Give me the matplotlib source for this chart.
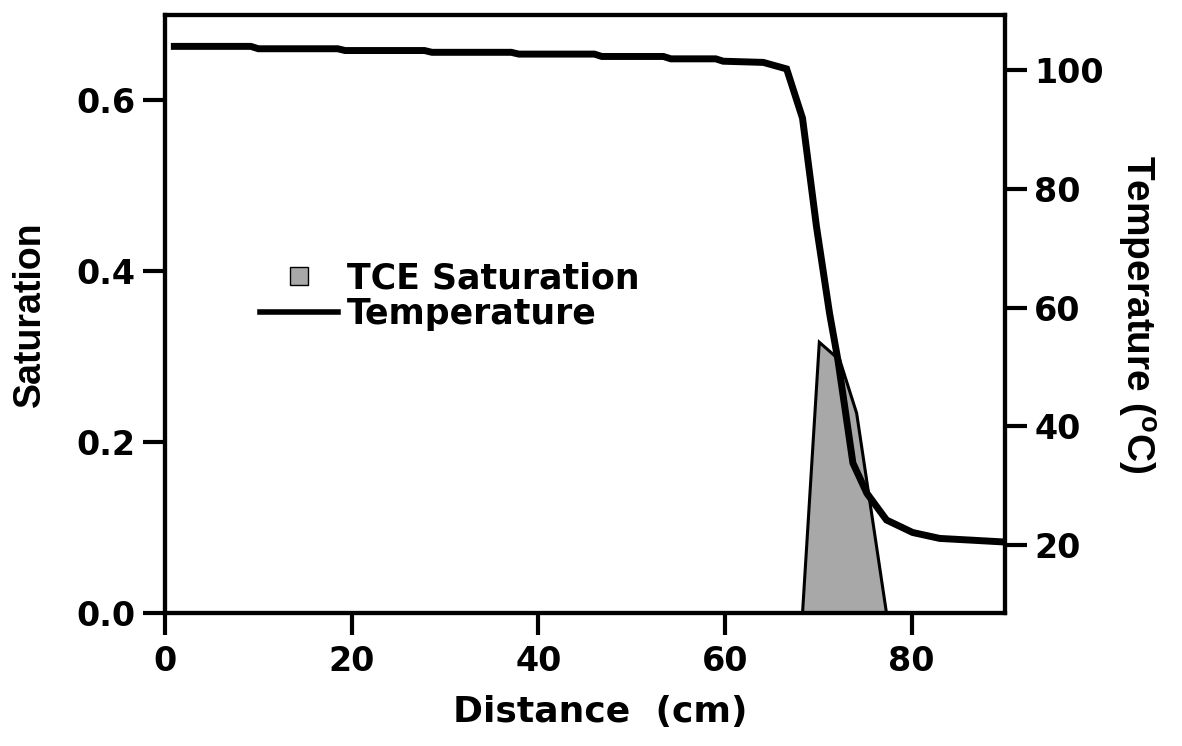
import matplotlib
matplotlib.use("Agg")
import matplotlib.pyplot as plt
from matplotlib.lines import Line2D

plt.rcParams['font.family'] = ['DejaVu Sans']
plt.rcParams['font.weight'] = 'bold'
plt.rcParams['mathtext.default'] = 'bf'

# temperature profile (deg C) along the column
dist_t = [1, 9.2, 10.0, 18.5, 19.3, 27.8, 28.6, 37.1, 37.9, 46.0, 46.8,
          53.4, 54.2, 59.0, 59.8, 64.1, 66.6, 68.3, 69.8, 71.2, 72.1,
          73.7, 75.2, 77.3, 80.1, 83.0, 86.5, 89.9]
temp = [104.0, 104.0, 103.6, 103.6, 103.3, 103.3, 103.0, 103.0, 102.7,
        102.7, 102.3, 102.3, 101.9, 101.9, 101.5, 101.3, 100.2, 91.9,
        73.6, 59.0, 51.1, 33.8, 28.7, 24.2, 22.1, 21.1, 20.8, 20.5]

# TCE saturation
dist_s = [68.3, 70.1, 72.3, 74.1, 77.3]
sat = [0.0, 0.317, 0.296, 0.234, 0.0]

fig = plt.figure(figsize=(11.82, 7.46), dpi=100)
ax = fig.add_axes([0.1396, 0.178, 0.7107, 0.802])
ax2 = ax.twinx()

ax.fill(dist_s, sat, facecolor='#a8a8a8', edgecolor='black', linewidth=2.2, zorder=2)
ax2.plot(dist_t, temp, color='black', linewidth=5, solid_joinstyle='miter', zorder=3)

ax.set_xlim(0, 90)
ax.set_ylim(0, 0.70)
ax2.set_ylim(8.5, 109.3)
ax.set_xticks([0, 20, 40, 60, 80])
ax.set_yticks([0.0, 0.2, 0.4, 0.6])
ax.set_yticklabels(['0.0', '0.2', '0.4', '0.6'])
ax2.set_yticks([20, 40, 60, 80, 100])

for a in (ax, ax2):
    for s in a.spines.values():
        s.set_linewidth(3)
    a.tick_params(width=3, length=16, labelsize=24, direction='out', pad=5)
ax.tick_params(axis='x', pad=7)

ax.set_xlabel('Distance  (cm)', fontsize=26, fontweight='bold', labelpad=12)
ax.xaxis.set_label_coords(0.518, -0.136)
ax.set_ylabel('Saturation', fontsize=27, fontweight='bold', labelpad=21,
              family='Liberation Sans')
ax2.set_ylabel('Temperature ($\\mathregular{^o}$C)', fontsize=28, fontweight='bold',
               rotation=270, labelpad=38, family='Liberation Sans')

handles = [Line2D([], [], marker='s', linestyle='none', markersize=13,
                  markerfacecolor='#a8a8a8', markeredgecolor='black', markeredgewidth=1),
           Line2D([], [], color='black', linewidth=4)]
ax.legend(handles, ['TCE Saturation', 'Temperature'], loc='upper left',
          bbox_to_anchor=(0.113, 0.588), frameon=False,
          handlelength=2.25, handletextpad=0.25, labelspacing=0.05,
          borderpad=0, borderaxespad=0,
          prop={'weight': 'bold', 'size': 25})

fig.savefig('out.png', dpi=100)
